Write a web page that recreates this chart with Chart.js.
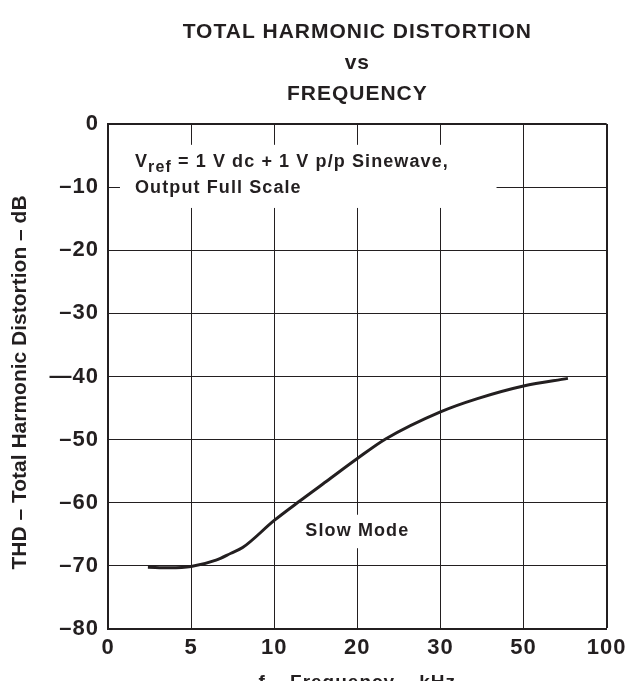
<!DOCTYPE html>
<html lang="en">
<head>
    <meta charset="UTF-8">
    <title>THD vs Frequency</title>
    <script src="https://cdn.jsdelivr.net/npm/chart.js"></script>
    <style>
        body { margin: 0; background: #fff; }
        #thdChart { display: block; }
    </style>
</head>
<body>
    <canvas id="thdChart" width="631" height="681"></canvas>

    <script>
        // axis: ticks are evenly spaced even though the kHz values are not
        const xTickValues = [0, 5, 10, 20, 30, 50, 100];
        const xTickLabels = ['0', '5', '10', '20', '30', '50', '100'];
        const yTickLabels = ['–80', '–70', '–60', '–50', '—40', '–30', '–20', '–10', '0'];

        // Slow Mode curve (kHz, dB)
        const freqKHz = [2.4, 3.7, 5, 6.5, 7.4, 8.1, 10, 13.2, 16.3, 20, 23.4, 30, 38.9, 50, 76.7];
        const thdDb = [-70.2, -70.3, -70.1, -69.1, -68.0, -67.1, -62.8, -59.6, -56.6, -53.0, -49.9, -45.6, -43.5, -41.5, -40.3];

        const ink = '#231f20';
        const fontFamily = "'Liberation Sans', Arial, Helvetica, sans-serif";
        Chart.defaults.font.family = fontFamily;
        Chart.defaults.color = ink;

        // kHz -> position on the evenly spaced axis (0..6)
        function freqToPos(f) {
            for (let i = 0; i < xTickValues.length - 1; i++) {
                if (f <= xTickValues[i + 1]) {
                    return i + (f - xTickValues[i]) / (xTickValues[i + 1] - xTickValues[i]);
                }
            }
            return xTickValues.length - 1;
        }

        const points = freqKHz.map((f, i) => ({ x: freqToPos(f), y: thdDb[i] }));

        // the original print is a bit wide, so spread the letters a little
        const spacingPlugin = {
            id: 'spacing',
            beforeDraw(chart) {
                chart.ctx.letterSpacing = '1px';
            }
        };

        // text notes inside the grid, with white boxes behind them
        const notesPlugin = {
            id: 'notes',
            beforeDatasetsDraw(chart) {
                const ctx = chart.ctx;
                const xs = chart.scales.x;
                const ys = chart.scales.y;
                const box = (x0, x1, y0, y1) => {
                    const l = xs.getPixelForValue(x0), r = xs.getPixelForValue(x1);
                    const t = ys.getPixelForValue(y0), b = ys.getPixelForValue(y1);
                    ctx.fillRect(l, t, r - l, b - t);
                };
                ctx.save();
                ctx.fillStyle = '#fff';
                box(0.144, 4.675, -3.3, -13.3);
                box(2.31, 3.71, -61.9, -67.2);

                ctx.fillStyle = ink;
                ctx.letterSpacing = '1.1px';
                ctx.textAlign = 'left';
                ctx.textBaseline = 'alphabetic';
                const big = 'bold 18px ' + fontFamily;
                const sub = 'bold 16px ' + fontFamily;
                let x = xs.getPixelForValue(0.325);
                const y1 = ys.getPixelForValue(-6.8);
                const y2 = ys.getPixelForValue(-10.9);
                ctx.font = big;
                ctx.fillText('V', x, y1);
                x += ctx.measureText('V').width;
                ctx.font = sub;
                ctx.fillText('ref', x, y1 + 5);
                x += ctx.measureText('ref').width;
                ctx.font = big;
                ctx.fillText(' = 1 V dc + 1 V p/p Sinewave,', x, y1);
                ctx.fillText('Output Full Scale', xs.getPixelForValue(0.325), y2);

                ctx.textAlign = 'center';
                ctx.textBaseline = 'middle';
                ctx.fillText('Slow Mode', xs.getPixelForValue(3.0), ys.getPixelForValue(-64.5));
                ctx.restore();
            },
            afterDraw(chart) {
                // y axis title, drawn by hand so it gets no letter spacing
                const ctx = chart.ctx;
                const area = chart.chartArea;
                ctx.save();
                ctx.letterSpacing = '0px';
                ctx.font = 'bold 21px ' + fontFamily;
                ctx.fillStyle = ink;
                ctx.textAlign = 'center';
                ctx.textBaseline = 'middle';
                ctx.translate(20, (area.top + area.bottom) / 2 + 6);
                ctx.rotate(-Math.PI / 2);
                ctx.fillText('THD – Total Harmonic Distortion – dB', 0, 0);
                ctx.restore();
            }
        };

        const config = {
            type: 'line',
            data: {
                datasets: [{
                    label: 'Slow Mode',
                    data: points,
                    borderColor: ink,
                    borderWidth: 3,
                    pointRadius: 0,
                    fill: false,
                    cubicInterpolationMode: 'monotone'
                }]
            },
            options: {
                responsive: false,
                animation: false,
                devicePixelRatio: 1,
                layout: {
                    padding: { left: 0, right: 24, top: 0, bottom: 0 }
                },
                plugins: {
                    legend: { display: false },
                    tooltip: { enabled: false },
                    title: {
                        display: true,
                        fullSize: false,
                        text: ['TOTAL HARMONIC DISTORTION', 'vs', 'FREQUENCY'],
                        color: ink,
                        font: { size: 21, weight: 'bold', lineHeight: 1.476 },
                        padding: { top: 16.5, bottom: 14.5 }
                    }
                },
                scales: {
                    x: {
                        type: 'linear',
                        min: 0,
                        max: 6,
                        afterFit: (scale) => { scale.height = 52; },
                        ticks: {
                            stepSize: 1,
                            padding: 6,
                            color: ink,
                            font: { size: 22, weight: 'bold' },
                            callback: (v) => xTickLabels[v]
                        },
                        grid: {
                            color: ink,
                            drawTicks: false,
                            lineWidth: (c) => (c.tick && c.tick.value === 6) ? 2 : 1
                        },
                        border: { display: true, color: ink, width: 2 },
                        title: {
                            display: true,
                            text: 'f – Frequency – kHz',
                            color: ink,
                            font: { size: 19, weight: 'bold' },
                            padding: { top: 0, bottom: -13 }
                        }
                    },
                    y: {
                        min: -80,
                        max: 0,
                        afterFit: (scale) => { scale.width = 108; },
                        ticks: {
                            stepSize: 10,
                            padding: 9,
                            color: ink,
                            font: { size: 22, weight: 'bold' },
                            callback: (v) => yTickLabels[(v + 80) / 10]
                        },
                        grid: {
                            color: ink,
                            drawTicks: false,
                            lineWidth: (c) => (c.tick && c.tick.value === 0) ? 2 : 1
                        },
                        border: { display: true, color: ink, width: 2 }
                    }
                }
            },
            plugins: [spacingPlugin, notesPlugin]
        };

        const ctx = document.getElementById('thdChart').getContext('2d');
        const thdChart = new Chart(ctx, config);
    </script>
</body>
</html>
